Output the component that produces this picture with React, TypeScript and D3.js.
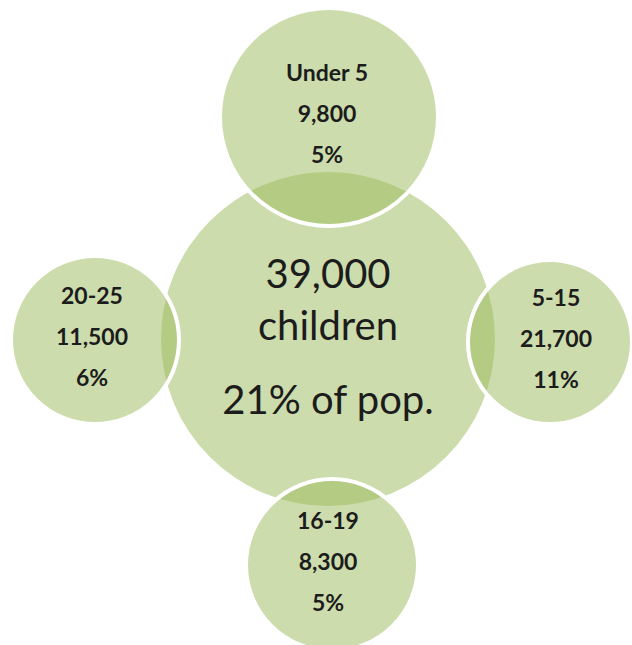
import React, { useEffect, useRef } from "react";
import * as d3 from "d3";

// ---- data ----
const segments = ["Under 5", "5-15", "16-19", "20-25"];
const counts = [9800, 21700, 8300, 11500];
const shares = [5, 11, 5, 6];
const totalChildren = 39000;
const totalShare = 21;

// ---- layout (positions / sizes) ----
const W = 632;
const H = 645;
const center = { x: 328, y: 339, r: 167 };
const satLayout = [
  { x: 329, y: 117, r: 109, tx: 327 },
  { x: 550, y: 342, r: 82, tx: 556 },
  { x: 332, y: 565, r: 86, tx: 328 },
  { x: 95, y: 340, r: 84, tx: 92 },
];
const LIGHT = "#ccdcac";
const DARK = "#b4cb83";
const TEXT = "#1c1c1c";
const FONT = "Lato, 'Open Sans', sans-serif";

export default function App() {
  const ref = useRef<SVGSVGElement | null>(null);

  useEffect(() => {
    const svg = d3.select(ref.current);
    svg.selectAll("*").remove();
    const fmt = d3.format(",");

    const defs = svg.append("defs");
    defs
      .append("clipPath")
      .attr("id", "centerClip")
      .append("circle")
      .attr("cx", center.x)
      .attr("cy", center.y)
      .attr("r", center.r);

    svg
      .append("circle")
      .attr("cx", center.x)
      .attr("cy", center.y)
      .attr("r", center.r)
      .attr("fill", LIGHT);

    const data = segments.map((s, i) => ({
      label: s,
      count: counts[i],
      share: shares[i],
      ...satLayout[i],
    }));

    const g = svg.append("g");
    g.selectAll("circle.fill")
      .data(data)
      .join("circle")
      .attr("class", "fill")
      .attr("cx", (d) => d.x)
      .attr("cy", (d) => d.y)
      .attr("r", (d) => d.r)
      .attr("fill", LIGHT);

    g.append("g")
      .attr("clip-path", "url(#centerClip)")
      .selectAll("circle")
      .data(data)
      .join("circle")
      .attr("cx", (d) => d.x)
      .attr("cy", (d) => d.y)
      .attr("r", (d) => d.r)
      .attr("fill", DARK);

    g.selectAll("circle.stroke")
      .data(data)
      .join("circle")
      .attr("class", "stroke")
      .attr("cx", (d) => d.x)
      .attr("cy", (d) => d.y)
      .attr("r", (d) => d.r)
      .attr("fill", "none")
      .attr("stroke", "#ffffff")
      .attr("stroke-width", 4);

    const lines = (d: any) => [d.label, fmt(d.count), `${d.share}%`];
    const offs = [-36, 5, 46];
    data.forEach((d) => {
      lines(d).forEach((t, j) => {
        svg
          .append("text")
          .attr("x", d.tx)
          .attr("y", d.y + offs[j])
          .attr("text-anchor", "middle")
          .attr("font-family", FONT)
          .attr("font-weight", "bold")
          .attr("font-size", 23)
          .attr("fill", TEXT)
          .text(t);
      });
    });

    const cLines = [
      { t: fmt(totalChildren), y: 288 },
      { t: "children", y: 340 },
      { t: `${totalShare}% of pop.`, y: 414 },
    ];
    cLines.forEach((l) => {
      svg
        .append("text")
        .attr("x", center.x)
        .attr("y", l.y)
        .attr("text-anchor", "middle")
        .attr("font-family", FONT)
        .attr("font-size", 40)
        .attr("fill", TEXT)
        .text(l.t);
    });
  }, []);

  return (
    <svg
      ref={ref}
      width={W}
      height={H}
      style={{ position: "absolute", left: 0, top: 0, background: "#fff" }}
    />
  );
}
